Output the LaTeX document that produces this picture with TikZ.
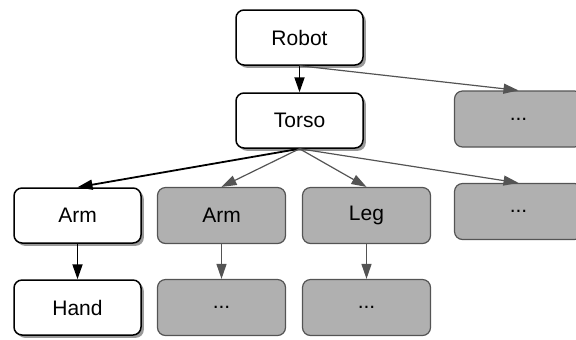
\documentclass[tikz,border=0pt]{standalone}
\usepackage{fontspec}
\setmainfont{Liberation Sans}
\usetikzlibrary{arrows.meta,shadows}
\tikzset{>={Triangle[length=7.5pt,width=5pt]},every node/.style={font=\fontsize{10.5}{12}\selectfont},
part/.style={draw=black,line width=.75pt,rounded corners=4pt,fill=white,minimum width=63.5pt,minimum height=27.5pt,inner sep=0pt,
  drop shadow={shadow xshift=1.4pt,shadow yshift=-1.4pt,opacity=.8}},
other/.style={draw=black!67,line width=.6pt,rounded corners=4pt,fill=black!31,minimum width=64pt,minimum height=28pt,inner sep=0pt},
link/.style={->,line width=.9pt},hint/.style={->,draw=black!67,line width=.6pt}}

\begin{document}
\begin{tikzpicture}[x=.5pt,y=-.5pt]
\useasboundingbox (0,0) rectangle (576,339);
% l'arbre du robot : les parties vues en blanc, le reste en gris
\node[part] (robot) at (299.5,37.5){Robot};
\node[part] (torso) at (299.5,120.5){Torso};
\node[part] (arm) at (77.5,215.5){Arm};
\node[part] (hand) at (77.5,307.5){Hand};
\node[other] (more1) at (518.5,119){...};
\node[other] (armb) at (221.5,215.5){Arm};
\node[other] (leg) at (366.5,215.5){Leg};
\node[other] (more2) at (518.5,211.5){...};
\node[other] (more3) at (221.5,307.5){...};
\node[other] (more4) at (366.5,307.5){...};
\draw[link] (robot.south)--(torso.north);
\draw[link] (torso.south)--(arm.north);
\draw[link] (arm.south)--(hand.north);
\draw[hint] (robot.south)--(more1.north);
\foreach \n in {armb,leg,more2}
\draw[hint] (torso.south)--(\n.north);
\draw[hint] (armb.south)--(more3.north);
\draw[hint] (leg.south)--(more4.north);
\end{tikzpicture}
\end{document}
